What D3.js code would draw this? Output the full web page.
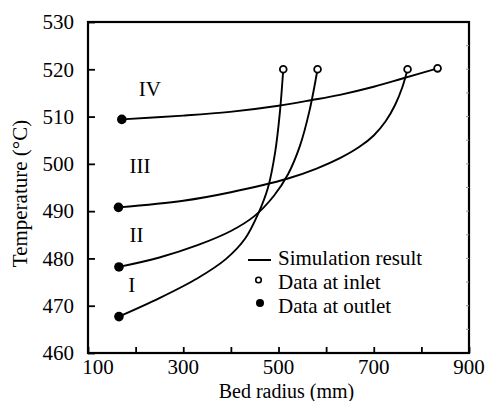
<!DOCTYPE html>
<html>
<head>
<meta charset="utf-8">
<script src="https://cdn.jsdelivr.net/npm/d3@7"></script>
<style>
  html, body { margin: 0; padding: 0; background: #fff; }
  svg { display: block; }
  text { font-family: "Liberation Serif", "Times New Roman", serif; fill: #000; }
</style>
</head>
<body>
<svg id="chart" width="486" height="401"></svg>
<script>
// ---- data ----
const xTicks = [100, 200, 300, 400, 500, 600, 700, 800, 900];
const xTickLabels = [100, 300, 500, 700, 900];
const yTicks = [460, 470, 480, 490, 500, 510, 520, 530];
const seriesNames = ["I", "II", "III", "IV"];
const curveI   = [[165,467.7],[250,471.6],[330,475.8],[390,479.9],[430,484.2],[458,489.6],[478,495.0],[493,502.5],[503,511.0],[510,520]];
const curveII  = [[165,478.2],[250,480.2],[330,482.8],[400,485.8],[450,489.0],[490,493.2],[520,497.8],[545,503.8],[565,511.2],[582,520]];
const curveIII = [[164,490.8],[300,492.2],[400,494.0],[520,496.9],[580,499.0],[629,501.2],[670,503.6],[700,506.0],[725,509.0],[745,512.5],[760,516.2],[771,520]];
const curveIV  = [[171,509.4],[300,510.2],[398,511.0],[500,512.3],[570,513.5],[629,514.6],[700,516.3],[762,518.1],[834,520.2]];
const outletX = [165, 165, 164, 171];
const outletY = [467.7, 478.2, 490.8, 509.4];
const inletX = [510, 582, 771, 834];
const inletY = [520, 520, 520, 520.2];
const labelX = [192, 202, 209, 230];
const labelY = [474.4, 485, 499.6, 515.8];
const legendLabels = ["Simulation result", "Data at inlet", "Data at outlet"];

// ---- layout ----
const svg = d3.select("#chart");
const L = 88, R = 469, T = 22, B = 353;
const x = d3.scaleLinear().domain([100, 900]).range([L, R]);
const y = d3.scaleLinear().domain([460, 530]).range([B, T]);
const FS = 21;

// frame
svg.append("rect").attr("x", L).attr("y", T).attr("width", R - L).attr("height", B - T)
  .attr("fill", "none").attr("stroke", "#000").attr("stroke-width", 2.2);

// bottom axis (inward ticks)
const xAxis = d3.axisBottom(x).tickValues(xTicks).tickSizeInner(-6).tickSizeOuter(0).tickFormat("");
const gx = svg.append("g").attr("transform", `translate(0,${B})`).call(xAxis);
gx.select(".domain").remove();
gx.selectAll(".tick line").attr("stroke", "#000").attr("stroke-width", 1.8);
svg.append("g").selectAll("text").data(xTickLabels).join("text")
  .attr("x", (d, i) => x(d) + (i === 0 ? 10 : 0))
  .attr("y", B + 21)
  .attr("text-anchor", "middle")
  .attr("font-size", FS)
  .text(d => d);

// left axis
const yAxis = d3.axisLeft(y).tickValues(yTicks).tickSizeInner(-7).tickSizeOuter(0).tickPadding(14);
const gy = svg.append("g").attr("transform", `translate(${L},0)`).call(yAxis);
gy.select(".domain").remove();
gy.selectAll(".tick line").attr("stroke", "#000").attr("stroke-width", 1.8);
gy.selectAll(".tick text").attr("font-size", FS).attr("font-family", "Liberation Serif, serif").attr("fill", "#000");

// right axis faint minor ticks
const rightTicks = d3.range(465, 530, 5);
svg.append("g").selectAll("line").data(rightTicks).join("line")
  .attr("x1", R - 3).attr("x2", R).attr("y1", d => y(d)).attr("y2", d => y(d))
  .attr("stroke", "#999").attr("stroke-width", 1);

// axis titles
svg.append("text").attr("x", (L + R) / 2 + 8).attr("y", 398)
  .attr("text-anchor", "middle").attr("font-size", 20).text("Bed radius (mm)");
svg.append("text").attr("transform", `translate(27,${(T + B) / 2 + 6}) rotate(-90)`)
  .attr("text-anchor", "middle").attr("font-size", FS).text("Temperature (°C)");

// curves
const line = d3.line().x(d => x(d[0])).y(d => y(d[1])).curve(d3.curveCatmullRom.alpha(0.5));
[curveI, curveII, curveIII, curveIV].forEach(c => {
  svg.append("path").attr("d", line(c)).attr("fill", "none")
    .attr("stroke", "#000").attr("stroke-width", 1.9);
});

// outlet markers (filled)
svg.append("g").selectAll("circle").data(outletX).join("circle")
  .attr("cx", d => x(d)).attr("cy", (d, i) => y(outletY[i])).attr("r", 4.8).attr("fill", "#000");
// inlet markers (open)
svg.append("g").selectAll("circle").data(inletX).join("circle")
  .attr("cx", d => x(d)).attr("cy", (d, i) => y(inletY[i])).attr("r", 3.4)
  .attr("fill", "#fff").attr("stroke", "#000").attr("stroke-width", 1.8);

// region labels
svg.append("g").selectAll("text").data(seriesNames).join("text")
  .attr("x", (d, i) => x(labelX[i])).attr("y", (d, i) => y(labelY[i]))
  .attr("text-anchor", "middle").attr("dominant-baseline", "central")
  .attr("font-size", FS).text(d => d);

// legend
const lg = svg.append("g");
lg.append("line").attr("x1", 248).attr("x2", 271).attr("y1", 260).attr("y2", 260)
  .attr("stroke", "#000").attr("stroke-width", 2);
lg.append("circle").attr("cx", 258.5).attr("cy", 280).attr("r", 2.8)
  .attr("fill", "#fff").attr("stroke", "#000").attr("stroke-width", 1.6);
lg.append("circle").attr("cx", 260).attr("cy", 303).attr("r", 4).attr("fill", "#000");
lg.selectAll("text").data(legendLabels).join("text")
  .attr("x", 278).attr("y", (d, i) => 258 + i * 24)
  .attr("dominant-baseline", "central")
  .attr("font-size", FS).text(d => d);
</script>
</body>
</html>
